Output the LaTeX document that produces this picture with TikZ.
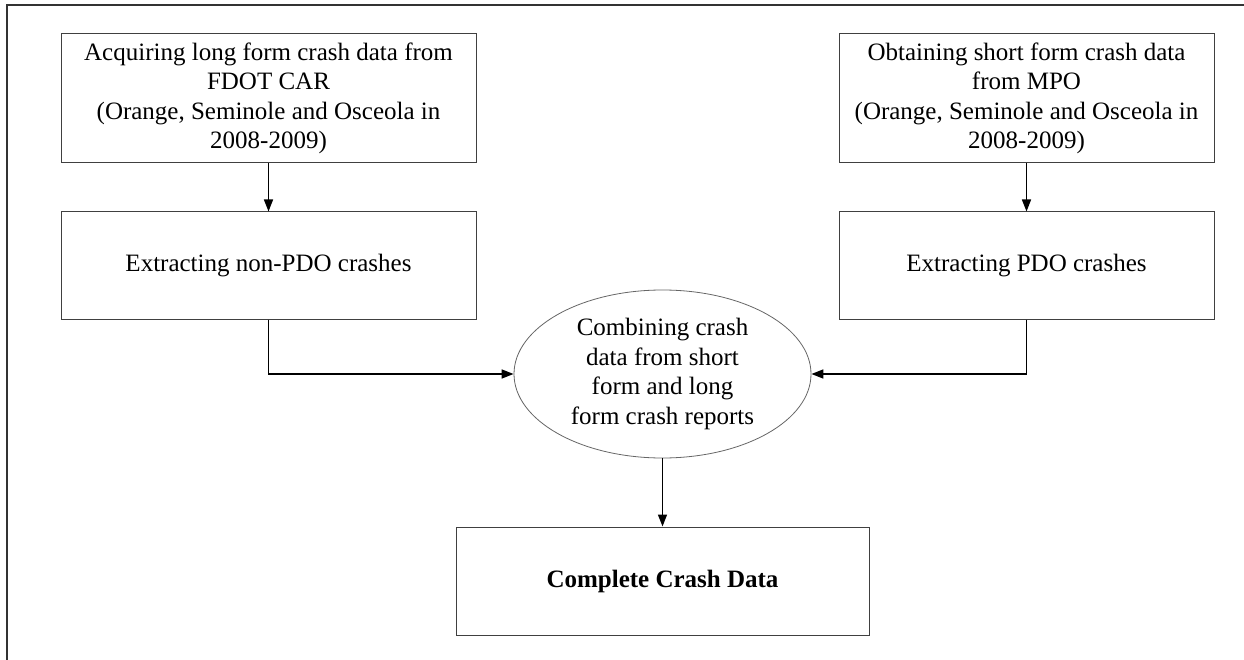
\documentclass[tikz,border=0pt]{standalone}
\usepackage{fontspec}
\setmainfont{Liberation Serif}
\usetikzlibrary{arrows.meta,shapes.geometric}
\begin{document}
\begin{tikzpicture}[x=1pt,y=-1pt,
  txt/.style={align=center, inner sep=0pt, text=black, font=\fontsize{25}{29.5}\selectfont},
  box/.style={txt, draw=black!75, line width=1pt, rectangle},
  oval/.style={txt, draw=black!60, line width=0.8pt, ellipse},
  conn/.style={-{Triangle[length=12pt,width=9pt]}, line width=1.5pt, black}]
\useasboundingbox (0,0) rectangle (1244,660);
\fill[white] (0,0) rectangle (1244,660);
\draw[line width=1.3pt, black!80] (1244,5) -- (7,5) -- (7,660);
\node[box, minimum width=415pt, minimum height=129pt] (a) at (268.5,98.5)
  {Acquiring long form crash data from\\FDOT CAR\\(Orange, Seminole and Osceola in\\2008-2009)};
\node[box, minimum width=375pt, minimum height=129pt] (b) at (1026.5,98.5)
  {Obtaining short form crash data\\from MPO\\(Orange, Seminole and Osceola in\\2008-2009)};
\node[box, minimum width=415pt, minimum height=107pt] (c) at (268.5,265.5)
  {Extracting non-PDO crashes};
\node[box, minimum width=375pt, minimum height=107pt] (d) at (1026.5,265.5)
  {Extracting PDO crashes};
\node[oval, minimum width=297pt, minimum height=168pt] (e) at (662.5,374)
  {Combining crash\\data from short\\form and long\\form crash reports};
\node[box, minimum width=413pt, minimum height=108pt] (f) at (662.5,581)
  {\bfseries Complete Crash Data};
\draw[conn] (a) -- (c);
\draw[conn] (b) -- (d);
\draw[conn] (c.south) |- (e.west);
\draw[conn] (d.south) |- (e.east);
\draw[conn] (e) -- (f);
\end{tikzpicture}
\end{document}
